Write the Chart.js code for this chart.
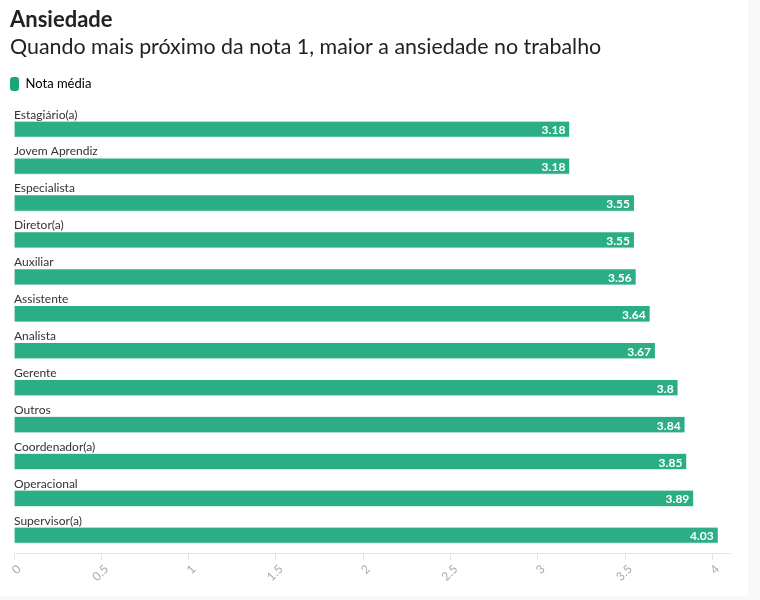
<!DOCTYPE html>
<html>
<head>
<meta charset="utf-8">
<script src="https://cdn.jsdelivr.net/npm/chart.js@4/dist/chart.umd.min.js"></script>
<style>
    html, body { margin: 0; padding: 0; background: #f8f8f8; }
    #card { width: 748px; height: 596px; background: #ffffff; }
</style>
</head>
<body>
<div id="card"><canvas id="ansiedadeChart" width="748" height="596"></canvas></div>
<script>
// Chart data
const categories = [
    'Estagiário(a)', 'Jovem Aprendiz', 'Especialista', 'Diretor(a)', 'Auxiliar', 'Assistente',
    'Analista', 'Gerente', 'Outros', 'Coordenador(a)', 'Operacional', 'Supervisor(a)'
];
const notaMedia = [3.18, 3.18, 3.55, 3.55, 3.56, 3.64, 3.67, 3.8, 3.84, 3.85, 3.89, 4.03];
const xTicks = [0, 0.5, 1, 1.5, 2, 2.5, 3, 3.5, 4];

const fontFamily = 'Lato, "Noto Sans", sans-serif';
const barColor = '#2bae85';

// Labels above bars + values inside bar ends
const barLabels = {
    id: 'barLabels',
    afterDatasetsDraw(chart) {
        const ctx = chart.ctx;
        const meta = chart.getDatasetMeta(0);
        ctx.save();
        meta.data.forEach((bar, i) => {
            const top = bar.y - bar.height / 2;
            ctx.font = '12px ' + fontFamily;
            ctx.fillStyle = '#333333';
            ctx.textAlign = 'left';
            ctx.textBaseline = 'alphabetic';
            ctx.fillText(categories[i], chart.chartArea.left, top - 3);

            ctx.font = 'bold 12px ' + fontFamily;
            ctx.fillStyle = '#ffffff';
            ctx.textAlign = 'right';
            ctx.textBaseline = 'middle';
            ctx.fillText(String(notaMedia[i]), bar.x - 4, bar.y + 1);
        });
        ctx.restore();
    }
};

const ctx = document.getElementById('ansiedadeChart').getContext('2d');
const chart = new Chart(ctx, {
    type: 'bar',
    data: {
        labels: categories,
        datasets: [{
            label: 'Nota média',
            data: notaMedia,
            xAxisID: 'x',
            yAxisID: 'y',
            backgroundColor: barColor,
            borderColor: '#d4efe4',
            borderWidth: { bottom: 1, top: 0, left: 0, right: 0 },
            borderSkipped: false,
            barThickness: 16
        }]
    },
    options: {
        indexAxis: 'y',
        responsive: false,
        animation: false,
        layout: { padding: { left: 10, right: 18, top: 0, bottom: 10 } },
        plugins: {
            title: {
                display: true,
                text: 'Ansiedade',
                align: 'start',
                color: '#222222',
                font: { family: fontFamily, size: 22, weight: 'bold', lineHeight: 1.2 },
                padding: { top: 7, bottom: 0 }
            },
            subtitle: {
                display: true,
                text: 'Quando mais próximo da nota 1, maior a ansiedade no trabalho',
                align: 'start',
                color: '#222222',
                font: { family: fontFamily, size: 21.4, lineHeight: 1.2 },
                padding: { top: 1, bottom: 17 }
            },
            legend: {
                display: true,
                align: 'start',
                labels: {
                    color: '#333333',
                    font: { family: fontFamily, size: 13 },
                    boxWidth: 9,
                    boxHeight: 14,
                    useBorderRadius: true,
                    borderRadius: 3,
                    padding: 0,
                    generateLabels: () => [{
                        text: 'Nota média',
                        fillStyle: '#1aa679',
                        strokeStyle: '#1aa679',
                        lineWidth: 0,
                        borderRadius: 3,
                        datasetIndex: 0
                    }]
                }
            },
            tooltip: { enabled: false }
        },
        scales: {
            x: {
                min: 0,
                max: 4.1,
                afterBuildTicks: scale => {
                    scale.ticks = xTicks.map(v => ({ value: v }));
                },
                grid: {
                    drawOnChartArea: false,
                    color: '#e6e6e6',
                    tickLength: 6
                },
                border: { color: '#e6e6e6' },
                ticks: {
                    color: '#aaaaaa',
                    font: { family: fontFamily, size: 12 },
                    minRotation: 45,
                    maxRotation: 45,
                    labelOffset: 5,
                    padding: 2,
                    callback: value => String(value)
                }
            },
            // spacer between legend and bars
            gap: {
                type: 'linear',
                axis: 'x',
                position: 'top',
                afterFit: scale => { scale.height = 10; },
                grid: { display: false },
                border: { display: false },
                ticks: { display: false }
            },
            y: {
                afterFit: scale => { scale.width = 4; },
                grid: { display: false },
                border: { display: false },
                ticks: { display: false }
            }
        }
    },
    plugins: [barLabels]
});
</script>
</body>
</html>
